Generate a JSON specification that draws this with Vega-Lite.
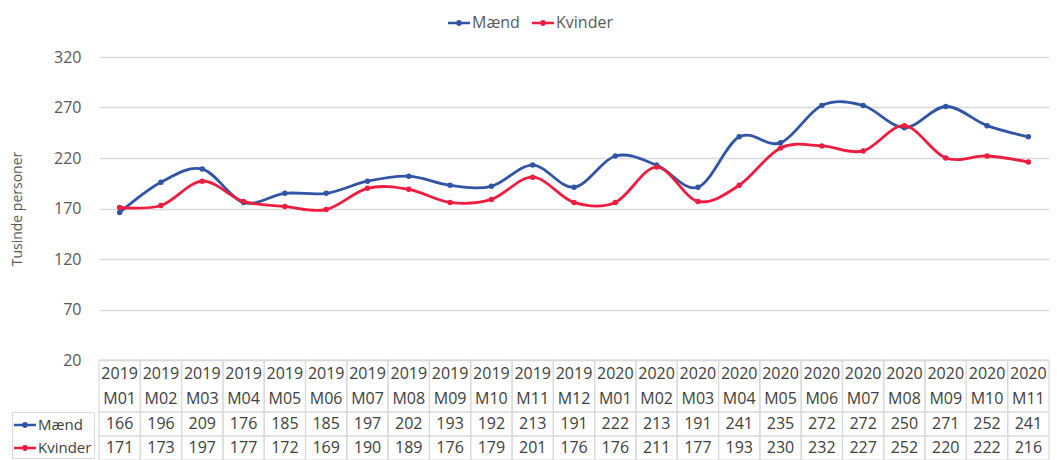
{
  "$schema": "https://vega.github.io/schema/vega-lite/v6.json",
  "padding": {"left": 10, "top": 12, "right": 0, "bottom": 0},
  "spacing": 0,
  "bounds": "flush",
  "config": {"view": {"stroke": null}, "font": "Open Sans", "axis": {"labelFont": "Open Sans", "titleFont": "Open Sans"}, "legend": {"labelFont": "Open Sans"}},
  "datasets": {
    "d": [
      {"m": "2019 M01", "Mænd": 166, "Kvinder": 171},
      {"m": "2019 M02", "Mænd": 196, "Kvinder": 173},
      {"m": "2019 M03", "Mænd": 209, "Kvinder": 197},
      {"m": "2019 M04", "Mænd": 176, "Kvinder": 177},
      {"m": "2019 M05", "Mænd": 185, "Kvinder": 172},
      {"m": "2019 M06", "Mænd": 185, "Kvinder": 169},
      {"m": "2019 M07", "Mænd": 197, "Kvinder": 190},
      {"m": "2019 M08", "Mænd": 202, "Kvinder": 189},
      {"m": "2019 M09", "Mænd": 193, "Kvinder": 176},
      {"m": "2019 M10", "Mænd": 192, "Kvinder": 179},
      {"m": "2019 M11", "Mænd": 213, "Kvinder": 201},
      {"m": "2019 M12", "Mænd": 191, "Kvinder": 176},
      {"m": "2020 M01", "Mænd": 222, "Kvinder": 176},
      {"m": "2020 M02", "Mænd": 213, "Kvinder": 211},
      {"m": "2020 M03", "Mænd": 191, "Kvinder": 177},
      {"m": "2020 M04", "Mænd": 241, "Kvinder": 193},
      {"m": "2020 M05", "Mænd": 235, "Kvinder": 230},
      {"m": "2020 M06", "Mænd": 272, "Kvinder": 232},
      {"m": "2020 M07", "Mænd": 272, "Kvinder": 227},
      {"m": "2020 M08", "Mænd": 250, "Kvinder": 252},
      {"m": "2020 M09", "Mænd": 271, "Kvinder": 220},
      {"m": "2020 M10", "Mænd": 252, "Kvinder": 222},
      {"m": "2020 M11", "Mænd": 241, "Kvinder": 216}
    ]
  },
  "resolve": {"legend": {"color": "independent"}},
  "vconcat": [
    {
      "width": 950,
      "height": 303,
      "data": {"name": "d"},
      "transform": [{"fold": ["Mænd", "Kvinder"], "as": ["serie", "v"]}],
      "encoding": {
        "x": {"field": "m", "type": "ordinal", "scale": {"type": "point", "padding": 0.5}, "axis": null},
        "y": {"field": "v", "type": "quantitative", "scale": {"domain": [20, 320], "nice": false, "zero": false},
          "axis": {"values": [20, 70, 120, 170, 220, 270, 320], "title": "Tusinde personer", "titleFontSize": 14, "titleFontWeight": "normal", "titleColor": "#595959", "titlePadding": 29,
            "labelFontSize": 16, "labelColor": "#595959", "labelPadding": 18, "ticks": false, "domain": false, "grid": true, "gridColor": "#D9D9D9", "gridWidth": 1.3}},
        "color": {"field": "serie", "type": "nominal", "scale": {"domain": ["Mænd", "Kvinder"], "range": ["#2F55A4", "#EE1C3E"]},
          "legend": {"orient": "none", "legendX": 349, "legendY": -45, "direction": "horizontal", "title": null, "labelFontSize": 16, "labelColor": "#595959", "labelOffset": 2, "columnPadding": 12,
            "symbolType": "M-1,-0.11L1,-0.11L1,0.11L-1,0.11Z M-0.27,0A0.27,0.27,0,1,1,0.27,0A0.27,0.27,0,1,1,-0.27,0Z", "symbolSize": 484, "symbolStrokeWidth": 0, "symbolOpacity": 1}}
      },
      "layer": [
        {"mark": {"type": "line", "interpolate": "cardinal", "tension": 0, "strokeWidth": 2.8}},
        {"mark": {"type": "point", "filled": true, "size": 30, "opacity": 1}}
      ]
    },
    {
      "width": 950,
      "height": 52,
      "data": {"name": "d"},
      "encoding": {
        "x": {"field": "m", "type": "ordinal", "scale": {"type": "band", "paddingInner": 0, "paddingOuter": 0}, "axis": null}
      },
      "layer": [
        {"mark": {"type": "rect", "fill": "transparent", "stroke": "#D9D9D9", "strokeWidth": 1.2}},
        {"mark": {"type": "text", "fontSize": 16, "color": "#404040", "lineBreak": " ", "lineHeight": 25, "dy": -12}, "encoding": {"text": {"field": "m"}}}
      ]
    },
    {
      "width": 950,
      "height": 48,
      "data": {"name": "d"},
      "transform": [{"fold": ["Mænd", "Kvinder"], "as": ["serie", "v"]}],
      "encoding": {
        "x": {"field": "m", "type": "ordinal", "scale": {"type": "band", "paddingInner": 0, "paddingOuter": 0}, "axis": null},
        "y": {"field": "serie", "type": "nominal", "scale": {"domain": ["Mænd", "Kvinder"], "paddingInner": 0, "paddingOuter": 0}, "axis": null}
      },
      "layer": [
        {"mark": {"type": "rect", "fill": "transparent", "stroke": "#D9D9D9", "strokeWidth": 1.2}},
        {"mark": {"type": "text", "fontSize": 16, "color": "#404040"}, "encoding": {"text": {"field": "v", "type": "quantitative"}}},
        {"mark": {"type": "point", "filled": true, "opacity": 0},
          "encoding": {
            "color": {"field": "serie", "type": "nominal", "scale": {"domain": ["Mænd", "Kvinder"], "range": ["#2F55A4", "#EE1C3E"]},
            "legend": {"orient": "none", "legendX": -87, "legendY": 0, "title": null, "labelFontSize": 15, "labelColor": "#404040", "labelOffset": 2, "padding": 2, "rowPadding": 4, "strokeColor": "#D9D9D9", "symbolOpacity": 1,
              "symbolType": "M-1,-0.11L1,-0.11L1,0.11L-1,0.11Z M-0.27,0A0.27,0.27,0,1,1,0.27,0A0.27,0.27,0,1,1,-0.27,0Z", "symbolSize": 484, "symbolStrokeWidth": 0}}}}
      ]
    }
  ]
}
